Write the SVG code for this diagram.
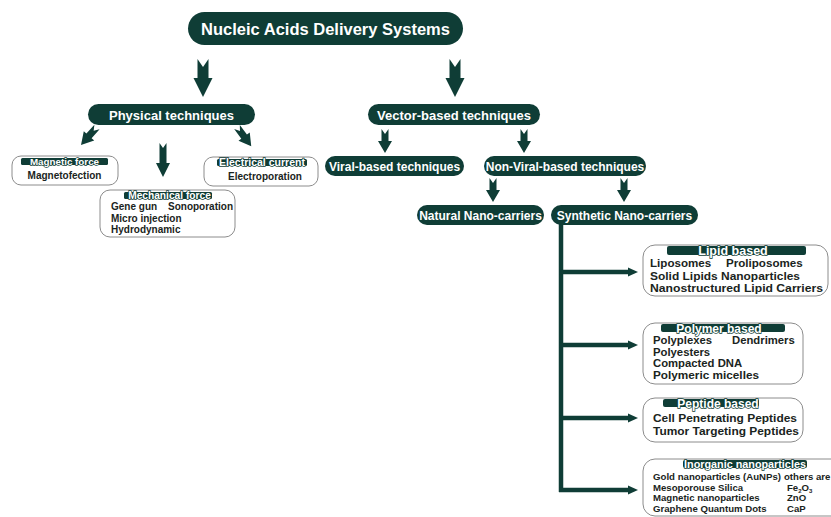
<svg xmlns="http://www.w3.org/2000/svg" width="831" height="517" viewBox="0 0 831 517">
<style>
  .pill{fill:#0f3d36}
  .ptxt{fill:#ffffff;font-family:"Liberation Sans",Arial,sans-serif;font-weight:bold;text-anchor:middle}
  .box{fill:#ffffff;stroke:#8c8c8c;stroke-width:1}
  .bar{fill:#0f3d36}
  .htxt{fill:#ffffff;stroke:#0f3d36;stroke-width:1.4;paint-order:stroke;font-family:"Liberation Sans",Arial,sans-serif;font-weight:bold;text-anchor:middle}
  .btxt{fill:#1a2421;font-family:"Liberation Sans",Arial,sans-serif;font-weight:bold}
  .arr{fill:#0f3d36}
  .line{stroke:#0f3d36;stroke-width:4.5;fill:none}
</style>
<defs>
  <path id="arrBig" d="M-5.5,0 L0,8 L5.5,0 L5.5,19 L9.5,19 L0,38 L-9.5,19 L-5.5,19 Z"/>
  <path id="arrSmall" d="M-3.5,0 L0,5 L3.5,0 L3.5,12 L7,12 L0,24 L-7,12 L-3.5,12 Z"/>
  <path id="arrMid" d="M-3.5,0 L0,5 L3.5,0 L3.5,20 L7,20 L0,34 L-7,20 L-3.5,20 Z"/>
  <marker id="head" markerUnits="userSpaceOnUse" markerWidth="12" markerHeight="12" refX="2" refY="6" orient="auto">
    <path d="M0,1.5 L10,6 L0,10.5 Z" fill="#0f3d36"/>
  </marker>
</defs>

<g id="connectors" class="arr">
  <use href="#arrBig" x="203" y="59"/>
  <use href="#arrBig" x="455" y="59"/>
  <use href="#arrSmall" transform="translate(97,127) rotate(41.8)"/>
  <use href="#arrMid" x="163" y="143"/>
  <use href="#arrSmall" transform="translate(237,127) rotate(-36.4)"/>
  <use href="#arrSmall" x="385" y="129"/>
  <use href="#arrSmall" x="524" y="129"/>
  <use href="#arrSmall" x="493" y="178"/>
  <use href="#arrSmall" x="624" y="178"/>
  <path class="line" d="M561,224 V492"/>
  <path class="line" d="M559,272 H630" marker-end="url(#head)"/>
  <path class="line" d="M559,345 H630" marker-end="url(#head)"/>
  <path class="line" d="M559,418 H630" marker-end="url(#head)"/>
  <path class="line" d="M559,490 H630" marker-end="url(#head)"/>
</g>

<g id="root">
  <rect class="pill" x="188" y="12" width="275" height="33" rx="16.5"/>
  <text class="ptxt" x="325.5" y="34.5" font-size="16.5">Nucleic Acids Delivery Systems</text>
</g>

<g id="physical">
  <rect class="pill" x="88" y="104" width="167" height="21" rx="10.5"/>
  <text class="ptxt" x="171.5" y="119.5" font-size="13">Physical techniques</text>
</g>

<g id="vector">
  <rect class="pill" x="368" y="104" width="172" height="21" rx="10.5"/>
  <text class="ptxt" x="454" y="119.5" font-size="13">Vector-based techniques</text>
</g>

<g id="magnetic">
  <rect class="box" x="12" y="156" width="106" height="29" rx="9"/>
  <rect class="bar" x="21" y="158" width="87" height="7" rx="1.5"/>
  <text class="htxt" x="64.5" y="165" font-size="9.8">Magnetic force</text>
  <text class="btxt" x="64.5" y="178.5" font-size="10" text-anchor="middle">Magnetofection</text>
</g>

<g id="electrical">
  <rect class="box" x="204" y="157" width="114" height="29" rx="9"/>
  <rect class="bar" x="217" y="159" width="90" height="7" rx="1.5"/>
  <text class="htxt" x="262" y="166" font-size="10.5">Electrical current</text>
  <text class="btxt" x="265" y="179.5" font-size="10" text-anchor="middle">Electroporation</text>
</g>

<g id="mechanical">
  <rect class="box" x="100" y="190" width="135" height="47" rx="10"/>
  <rect class="bar" x="124" y="192" width="88" height="7" rx="1.5"/>
  <text class="htxt" x="169.5" y="198.5" font-size="10.2">Mechanical force</text>
  <text class="btxt" x="111" y="209.5" font-size="10">Gene gun</text>
  <text class="btxt" x="168" y="209.5" font-size="10">Sonoporation</text>
  <text class="btxt" x="111" y="221.5" font-size="10">Micro injection</text>
  <text class="btxt" x="111" y="233" font-size="10">Hydrodynamic</text>
</g>

<g id="viral">
  <rect class="pill" x="325" y="156" width="139" height="20" rx="10"/>
  <text class="ptxt" x="394.5" y="170.5" font-size="12">Viral-based techniques</text>
</g>

<g id="nonviral">
  <rect class="pill" x="484" y="156" width="162" height="20" rx="10"/>
  <text class="ptxt" x="565" y="170.5" font-size="12">Non-Viral-based techniques</text>
</g>

<g id="natural">
  <rect class="pill" x="417" y="205" width="127" height="20" rx="10"/>
  <text class="ptxt" x="480.5" y="219.5" font-size="12">Natural Nano-carriers</text>
</g>

<g id="synthetic">
  <rect class="pill" x="551" y="205" width="147" height="20" rx="10"/>
  <text class="ptxt" x="624.5" y="219.5" font-size="12">Synthetic Nano-carriers</text>
</g>

<g id="lipid">
  <rect class="box" x="643" y="245" width="185" height="51" rx="12"/>
  <rect class="bar" x="667" y="246" width="139" height="9" rx="2"/>
  <text class="htxt" x="733" y="254.5" font-size="12.5">Lipid based</text>
  <text class="btxt" x="650" y="267" font-size="11.6">Liposomes</text>
  <text class="btxt" x="726" y="267" font-size="11.6">Proliposomes</text>
  <text class="btxt" x="650" y="279.5" font-size="11.6" textLength="150" lengthAdjust="spacingAndGlyphs">Solid Lipids Nanoparticles</text>
  <text class="btxt" x="650" y="292" font-size="11.6" textLength="173" lengthAdjust="spacingAndGlyphs">Nanostructured Lipid Carriers</text>
</g>

<g id="polymer">
  <rect class="box" x="643" y="323" width="160" height="61" rx="12"/>
  <rect class="bar" x="661" y="324" width="124" height="8" rx="2"/>
  <text class="htxt" x="719" y="332.5" font-size="12">Polymer based</text>
  <text class="btxt" x="653" y="344" font-size="11.3">Polyplexes</text>
  <text class="btxt" x="732" y="344" font-size="11.3">Dendrimers</text>
  <text class="btxt" x="653" y="355.5" font-size="11.3">Polyesters</text>
  <text class="btxt" x="653" y="367" font-size="11.3">Compacted DNA</text>
  <text class="btxt" x="653" y="378.5" font-size="11.3" textLength="106" lengthAdjust="spacingAndGlyphs">Polymeric micelles</text>
</g>

<g id="peptide">
  <rect class="box" x="643" y="398" width="160" height="44" rx="12"/>
  <rect class="bar" x="663" y="399" width="96" height="8" rx="2"/>
  <text class="htxt" x="718" y="407.5" font-size="12">Peptide based</text>
  <text class="btxt" x="653" y="422" font-size="11.6" textLength="144" lengthAdjust="spacingAndGlyphs">Cell Penetrating Peptides</text>
  <text class="btxt" x="653" y="435" font-size="11.6" textLength="146" lengthAdjust="spacingAndGlyphs">Tumor Targeting Peptides</text>
</g>

<g id="inorganic">
  <rect class="box" x="643" y="459" width="210" height="57" rx="12"/>
  <rect class="bar" x="683" y="460" width="124" height="8" rx="2"/>
  <text class="htxt" x="745" y="468" font-size="10.8">Inorganic nanoparticles</text>
  <text class="btxt" x="653" y="479.5" font-size="9.6" textLength="128" lengthAdjust="spacingAndGlyphs">Gold nanoparticles (AuNPs)</text>
  <text class="btxt" x="784" y="479.5" font-size="9.6">others are</text>
  <text class="btxt" x="653" y="490.5" font-size="9.6">Mesoporouse Silica</text>
  <text class="btxt" x="787" y="490.5" font-size="9.6">Fe<tspan font-size="6" dy="2">2</tspan><tspan dy="-2">O</tspan><tspan font-size="6" dy="2">3</tspan></text>
  <text class="btxt" x="653" y="501" font-size="9.6">Magnetic nanoparticles</text>
  <text class="btxt" x="787" y="501" font-size="9.6">ZnO</text>
  <text class="btxt" x="653" y="511.5" font-size="9.6">Graphene Quantum Dots</text>
  <text class="btxt" x="787" y="511.5" font-size="9.6">CaP</text>
</g>
</svg>
